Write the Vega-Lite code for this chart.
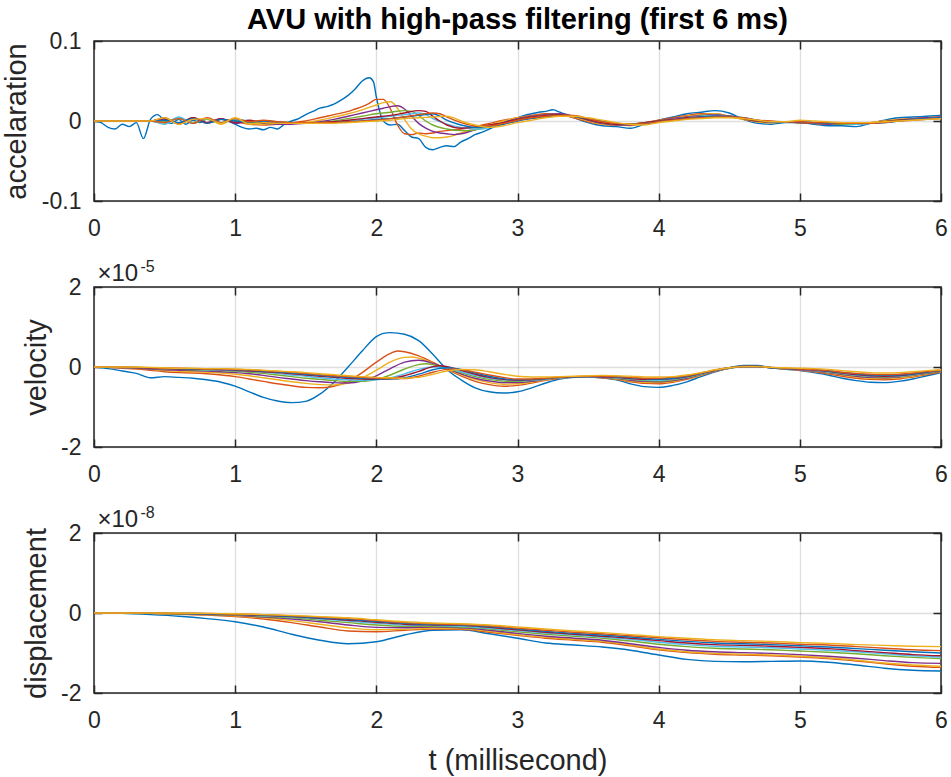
{
  "$schema": "https://vega.github.io/schema/vega-lite/v6.json",
  "padding": {"left": 1, "top": 5, "right": 5, "bottom": 0},
  "spacing": 86,
  "bounds": "flush",
  "datasets": {
    "acc": [
      {"t":0,"s1":0,"s2":0,"s3":0,"s4":0,"s5":0,"s6":0,"s7":0,"s8":0,"s9":0,"s10":0},
      {"t":0.05,"s1":-0.002},
      {"t":0.1,"s1":-0.008,"s2":0,"s3":0,"s4":0,"s5":0,"s6":0,"s7":0,"s8":0,"s9":0,"s10":0},
      {"t":0.15,"s1":-0.010},
      {"t":0.2,"s1":-0.004,"s2":0,"s3":0,"s4":0,"s5":0,"s6":0,"s7":0,"s8":0,"s9":0,"s10":0},
      {"t":0.25,"s1":-0.007},
      {"t":0.3,"s1":-0.002,"s2":0,"s3":0,"s4":0,"s5":0,"s6":0,"s7":0,"s8":0,"s9":0,"s10":0},
      {"t":0.35,"s1":-0.022},
      {"t":0.4,"s1":0.002,"s2":0,"s3":0,"s4":0,"s5":0,"s6":0,"s7":0,"s8":0,"s9":0,"s10":0},
      {"t":0.45,"s1":0.008},
      {"t":0.5,"s1":0.000,"s2":0.004,"s3":-0.003,"s4":0.002,"s5":0.000,"s6":-0.004,"s7":0.003,"s8":0.001,"s9":-0.002,"s10":0.004},
      {"t":0.55,"s1":-0.003},
      {"t":0.6,"s1":0.002,"s2":-0.004,"s3":0.004,"s4":-0.003,"s5":0.003,"s6":0.005,"s7":-0.003,"s8":-0.002,"s9":0.003,"s10":-0.004},
      {"t":0.65,"s1":-0.004},
      {"t":0.7,"s1":0.001,"s2":0.003,"s3":-0.002,"s4":0.004,"s5":-0.003,"s6":-0.003,"s7":0.004,"s8":0.003,"s9":-0.003,"s10":0.002},
      {"t":0.75,"s1":-0.002},
      {"t":0.8,"s1":0.003,"s2":-0.003,"s3":0.003,"s4":-0.002,"s5":0.002,"s6":0.003,"s7":-0.002,"s8":-0.003,"s9":0.004,"s10":0.003},
      {"t":0.85,"s1":-0.001},
      {"t":0.9,"s1":0.002,"s2":0.002,"s3":-0.004,"s4":0.003,"s5":-0.002,"s6":-0.002,"s7":0.003,"s8":0.002,"s9":-0.002,"s10":-0.003},
      {"t":0.95,"s1":0.000},
      {"t":1.0,"s1":-0.004,"s2":-0.001,"s3":0.003,"s4":-0.003,"s5":0.001,"s6":0.002,"s7":-0.002,"s8":0.000,"s9":0.003,"s10":0.004},
      {"t":1.05,"s1":-0.008},
      {"t":1.1,"s1":-0.010,"s2":-0.004,"s3":-0.002,"s4":0.000,"s5":-0.002,"s6":0.000,"s7":0.001,"s8":-0.001,"s9":-0.001,"s10":-0.004},
      {"t":1.15,"s1":-0.009},
      {"t":1.2,"s1":-0.011,"s2":-0.005,"s3":-0.004,"s4":-0.003,"s5":-0.002,"s6":-0.001,"s7":-0.002,"s8":0.000,"s9":0.001,"s10":-0.002},
      {"t":1.25,"s1":-0.008},
      {"t":1.3,"s1":-0.010,"s2":-0.004,"s3":-0.004,"s4":-0.004,"s5":-0.003,"s6":-0.002,"s7":-0.002,"s8":-0.001,"s9":-0.001,"s10":-0.003},
      {"t":1.35,"s1":-0.004},
      {"t":1.4,"s1":0.000,"s2":-0.002,"s3":-0.003,"s4":-0.004,"s5":-0.003,"s6":-0.003,"s7":-0.002,"s8":-0.002,"s9":-0.002,"s10":-0.003},
      {"t":1.45,"s1":0.003},
      {"t":1.5,"s1":0.008,"s2":0.000,"s3":-0.002,"s4":-0.003,"s5":-0.003,"s6":-0.003,"s7":-0.002,"s8":-0.002,"s9":-0.002,"s10":-0.003},
      {"t":1.55,"s1":0.012},
      {"t":1.6,"s1":0.016,"s2":0.004,"s3":0.001,"s4":-0.001,"s5":-0.002,"s6":-0.003,"s7":-0.002,"s8":-0.002,"s9":-0.002,"s10":-0.003},
      {"t":1.65,"s1":0.018},
      {"t":1.7,"s1":0.021,"s2":0.008,"s3":0.005,"s4":0.002,"s5":0.000,"s6":-0.002,"s7":-0.001,"s8":-0.002,"s9":-0.002,"s10":-0.003},
      {"t":1.75,"s1":0.026},
      {"t":1.8,"s1":0.032,"s2":0.012,"s3":0.009,"s4":0.006,"s5":0.003,"s6":0.000,"s7":0.001,"s8":-0.001,"s9":-0.001,"s10":-0.002},
      {"t":1.85,"s1":0.040,"s2":0.015},
      {"t":1.9,"s1":0.050,"s2":0.018,"s3":0.014,"s4":0.010,"s5":0.006,"s6":0.002,"s7":0.003,"s8":0.000,"s9":0.000,"s10":-0.001},
      {"t":1.95,"s1":0.054,"s2":0.022,"s3":0.017},
      {"t":1.98,"s1":0.049},
      {"t":2.0,"s1":0.030,"s2":0.027,"s3":0.020,"s4":0.014,"s5":0.009,"s6":0.004,"s7":0.005,"s8":0.002,"s9":0.001,"s10":0.000},
      {"t":2.05,"s1":0.000,"s2":0.027,"s3":0.023,"s4":0.016},
      {"t":2.1,"s1":-0.005,"s2":0.015,"s3":0.024,"s4":0.018,"s5":0.011,"s6":0.006,"s7":0.007,"s8":0.003,"s9":0.003,"s10":0.001},
      {"t":2.15,"s1":-0.004,"s2":-0.005,"s3":0.016,"s4":0.019},
      {"t":2.2,"s1":-0.012,"s2":-0.016,"s3":0.002,"s4":0.015,"s5":0.013,"s6":0.008,"s7":0.010,"s8":0.005,"s9":0.005,"s10":0.003},
      {"t":2.25,"s1":-0.020,"s2":-0.017,"s3":-0.010,"s4":0.006,"s5":0.012},
      {"t":2.3,"s1":-0.022,"s2":-0.015,"s3":-0.016,"s4":-0.003,"s5":0.007,"s6":0.010,"s7":0.013,"s8":0.007,"s9":0.008,"s10":0.004},
      {"t":2.35,"s1":-0.033,"s2":-0.016,"s3":-0.019,"s4":-0.009,"s5":0.000,"s6":0.008,"s7":0.012},
      {"t":2.4,"s1":-0.036,"s2":-0.015,"s3":-0.021,"s4":-0.013,"s5":-0.005,"s6":0.003,"s7":0.006,"s8":0.009,"s9":0.010,"s10":0.005},
      {"t":2.45,"s1":-0.033,"s2":-0.013,"s3":-0.021,"s4":-0.015,"s7":0.000,"s8":0.006,"s9":0.009},
      {"t":2.5,"s1":-0.031,"s2":-0.012,"s3":-0.020,"s4":-0.016,"s5":-0.010,"s6":-0.004,"s7":-0.005,"s8":0.001,"s9":0.005,"s10":0.006},
      {"t":2.55,"s1":-0.032,"s2":-0.011,"s3":-0.018,"s4":-0.017,"s10":0.004},
      {"t":2.6,"s1":-0.026,"s2":-0.010,"s3":-0.015,"s4":-0.016,"s5":-0.012,"s6":-0.008,"s7":-0.009,"s8":-0.005,"s9":-0.002,"s10":0.000},
      {"t":2.65,"s1":-0.022,"s5":-0.012},
      {"t":2.7,"s1":-0.017,"s2":-0.007,"s3":-0.010,"s4":-0.011,"s5":-0.011,"s6":-0.010,"s7":-0.008,"s8":-0.008,"s9":-0.006,"s10":-0.005},
      {"t":2.75,"s1":-0.014,"s6":-0.010},
      {"t":2.8,"s1":-0.010,"s2":-0.003,"s3":-0.005,"s4":-0.006,"s5":-0.007,"s6":-0.008,"s7":-0.005,"s8":-0.007,"s9":-0.006,"s10":-0.008},
      {"t":2.85,"s1":-0.006},
      {"t":2.9,"s1":-0.002,"s2":0.001,"s3":0.000,"s4":-0.002,"s5":-0.003,"s6":-0.004,"s7":-0.002,"s8":-0.004,"s9":-0.003,"s10":-0.006},
      {"t":2.95,"s1":0.001},
      {"t":3.0,"s1":0.004,"s2":0.004,"s3":0.004,"s4":0.003,"s5":0.002,"s6":0.001,"s7":0.002,"s8":0.000,"s9":0.001,"s10":-0.002},
      {"t":3.05,"s1":0.007},
      {"t":3.1,"s1":0.009,"s2":0.007,"s3":0.006,"s4":0.006,"s5":0.005,"s6":0.004,"s7":0.005,"s8":0.003,"s9":0.004,"s10":0.001},
      {"t":3.15,"s1":0.011},
      {"t":3.2,"s1":0.012,"s2":0.009,"s3":0.008,"s4":0.008,"s5":0.007,"s6":0.006,"s7":0.007,"s8":0.005,"s9":0.006,"s10":0.004},
      {"t":3.25,"s1":0.014},
      {"t":3.3,"s1":0.011,"s2":0.008,"s3":0.008,"s4":0.009,"s5":0.008,"s6":0.007,"s7":0.008,"s8":0.007,"s9":0.007,"s10":0.006},
      {"t":3.4,"s1":0.004,"s2":0.004,"s3":0.005,"s4":0.006,"s5":0.006,"s6":0.006,"s7":0.006,"s8":0.006,"s9":0.007,"s10":0.006},
      {"t":3.5,"s1":-0.002,"s2":-0.001,"s3":0.000,"s4":0.001,"s5":0.002,"s6":0.003,"s7":0.002,"s8":0.003,"s9":0.003,"s10":0.004},
      {"t":3.6,"s1":-0.006,"s2":-0.004,"s3":-0.004,"s4":-0.003,"s5":-0.002,"s6":-0.001,"s7":-0.002,"s8":0.000,"s9":-0.001,"s10":0.001},
      {"t":3.7,"s1":-0.007,"s2":-0.005,"s3":-0.005,"s4":-0.005,"s5":-0.004,"s6":-0.003,"s7":-0.004,"s8":-0.003,"s9":-0.003,"s10":-0.002},
      {"t":3.8,"s1":-0.009,"s2":-0.005,"s3":-0.006,"s4":-0.005,"s5":-0.004,"s6":-0.004,"s7":-0.004,"s8":-0.004,"s9":-0.004,"s10":-0.004},
      {"t":3.9,"s1":-0.004,"s2":-0.002,"s3":-0.003,"s4":-0.003,"s5":-0.002,"s6":-0.003,"s7":-0.002,"s8":-0.003,"s9":-0.003,"s10":-0.005},
      {"t":4.0,"s1":0.001,"s2":0.001,"s3":0.000,"s4":0.000,"s5":0.000,"s6":-0.001,"s7":0.000,"s8":-0.001,"s9":-0.001,"s10":-0.002},
      {"t":4.1,"s1":0.005,"s2":0.004,"s3":0.003,"s4":0.003,"s5":0.002,"s6":0.002,"s7":0.002,"s8":0.001,"s9":0.001,"s10":0.000},
      {"t":4.2,"s1":0.009,"s2":0.007,"s3":0.006,"s4":0.005,"s5":0.004,"s6":0.004,"s7":0.004,"s8":0.003,"s9":0.003,"s10":0.002},
      {"t":4.3,"s1":0.011,"s2":0.009,"s3":0.008,"s4":0.007,"s5":0.006,"s6":0.006,"s7":0.005,"s8":0.005,"s9":0.004,"s10":0.003},
      {"t":4.4,"s1":0.013,"s2":0.009,"s3":0.009,"s4":0.008,"s5":0.007,"s6":0.007,"s7":0.006,"s8":0.006,"s9":0.005,"s10":0.004},
      {"t":4.5,"s1":0.010,"s2":0.006,"s3":0.006,"s4":0.006,"s5":0.006,"s6":0.006,"s7":0.006,"s8":0.005,"s9":0.005,"s10":0.004},
      {"t":4.6,"s1":0.002,"s2":0.002,"s3":0.002,"s4":0.003,"s5":0.003,"s6":0.004,"s7":0.003,"s8":0.004,"s9":0.004,"s10":0.003},
      {"t":4.7,"s1":-0.003,"s2":-0.001,"s3":-0.001,"s4":0.000,"s5":0.000,"s6":0.001,"s7":0.000,"s8":0.001,"s9":0.001,"s10":0.001},
      {"t":4.8,"s1":-0.004,"s2":-0.002,"s3":-0.002,"s4":-0.001,"s5":-0.001,"s6":-0.001,"s7":-0.001,"s8":-0.001,"s9":0.000,"s10":-0.001},
      {"t":4.9,"s1":-0.002,"s2":-0.001,"s3":-0.001,"s4":-0.001,"s5":-0.001,"s6":-0.001,"s7":-0.001,"s8":-0.001,"s9":-0.001,"s10":-0.001},
      {"t":5.0,"s1":-0.002,"s2":-0.002,"s3":-0.002,"s4":-0.002,"s5":-0.002,"s6":-0.001,"s7":-0.002,"s8":-0.001,"s9":-0.001,"s10":0.001},
      {"t":5.1,"s1":-0.004,"s2":-0.003,"s3":-0.003,"s4":-0.003,"s5":-0.002,"s6":-0.002,"s7":-0.002,"s8":-0.002,"s9":-0.002,"s10":0.000},
      {"t":5.2,"s1":-0.006,"s2":-0.004,"s3":-0.004,"s4":-0.004,"s5":-0.003,"s6":-0.003,"s7":-0.003,"s8":-0.003,"s9":-0.002,"s10":-0.001},
      {"t":5.3,"s1":-0.006,"s2":-0.004,"s3":-0.004,"s4":-0.004,"s5":-0.004,"s6":-0.003,"s7":-0.003,"s8":-0.003,"s9":-0.003,"s10":-0.002},
      {"t":5.4,"s1":-0.007,"s2":-0.004,"s3":-0.004,"s4":-0.004,"s5":-0.004,"s6":-0.004,"s7":-0.003,"s8":-0.003,"s9":-0.003,"s10":-0.002},
      {"t":5.5,"s1":-0.003,"s2":-0.002,"s3":-0.002,"s4":-0.003,"s5":-0.003,"s6":-0.003,"s7":-0.003,"s8":-0.003,"s9":-0.003,"s10":-0.002},
      {"t":5.6,"s1":0.001,"s2":0.000,"s3":0.000,"s4":-0.001,"s5":-0.001,"s6":-0.002,"s7":-0.001,"s8":-0.002,"s9":-0.002,"s10":-0.001},
      {"t":5.7,"s1":0.004,"s2":0.002,"s3":0.002,"s4":0.001,"s5":0.001,"s6":0.000,"s7":0.001,"s8":0.000,"s9":0.000,"s10":0.000},
      {"t":5.8,"s1":0.005,"s2":0.003,"s3":0.003,"s4":0.003,"s5":0.002,"s6":0.002,"s7":0.002,"s8":0.002,"s9":0.001,"s10":0.001},
      {"t":5.9,"s1":0.006,"s2":0.004,"s3":0.004,"s4":0.004,"s5":0.003,"s6":0.003,"s7":0.003,"s8":0.003,"s9":0.002,"s10":0.002},
      {"t":6.0,"s1":0.007,"s2":0.005,"s3":0.005,"s4":0.005,"s5":0.004,"s6":0.004,"s7":0.004,"s8":0.004,"s9":0.003,"s10":0.003}
    ],
    "vel": [
      {"t":0.0,"s1":0,"s2":0,"s3":0,"s4":0,"s5":0,"s6":0,"s7":0,"s8":0,"s9":0,"s10":0},
      {"t":0.1,"s1":-0.04,"s2":-0.01,"s3":-0.01,"s4":-0.01,"s5":0,"s6":0,"s7":0,"s8":0,"s9":0,"s10":0},
      {"t":0.2,"s1":-0.10,"s2":-0.03,"s3":-0.02,"s4":-0.02,"s5":-0.01,"s6":-0.01,"s7":-0.01,"s8":0,"s9":0,"s10":0},
      {"t":0.3,"s1":-0.16,"s2":-0.05,"s3":-0.04,"s4":-0.03,"s5":-0.02,"s6":-0.02,"s7":-0.02,"s8":-0.01,"s9":-0.01,"s10":0},
      {"t":0.4,"s1":-0.27,"s2":-0.08,"s3":-0.06,"s4":-0.05,"s5":-0.03,"s6":-0.03,"s7":-0.03,"s8":-0.02,"s9":-0.02,"s10":-0.01},
      {"t":0.5,"s1":-0.24,"s2":-0.12,"s3":-0.09,"s4":-0.07,"s5":-0.05,"s6":-0.04,"s7":-0.04,"s8":-0.03,"s9":-0.03,"s10":-0.02},
      {"t":0.6,"s1":-0.26,"s2":-0.14,"s3":-0.11,"s4":-0.08,"s5":-0.06,"s6":-0.05,"s7":-0.05,"s8":-0.04,"s9":-0.03,"s10":-0.03},
      {"t":0.7,"s1":-0.28,"s2":-0.15,"s3":-0.12,"s4":-0.09,"s5":-0.07,"s6":-0.06,"s7":-0.05,"s8":-0.05,"s9":-0.04,"s10":-0.03},
      {"t":0.8,"s1":-0.32,"s2":-0.17,"s3":-0.13,"s4":-0.10,"s5":-0.08,"s6":-0.07,"s7":-0.06,"s8":-0.05,"s9":-0.05,"s10":-0.04},
      {"t":0.9,"s1":-0.38,"s2":-0.20,"s3":-0.15,"s4":-0.12,"s5":-0.09,"s6":-0.08,"s7":-0.07,"s8":-0.06,"s9":-0.05,"s10":-0.04},
      {"t":1.0,"s1":-0.48,"s2":-0.24,"s3":-0.18,"s4":-0.14,"s5":-0.11,"s6":-0.09,"s7":-0.08,"s8":-0.07,"s9":-0.06,"s10":-0.05},
      {"t":1.1,"s1":-0.62,"s2":-0.30,"s3":-0.22,"s4":-0.17,"s5":-0.13,"s6":-0.11,"s7":-0.10,"s8":-0.08,"s9":-0.07,"s10":-0.06},
      {"t":1.2,"s1":-0.76,"s2":-0.36,"s3":-0.27,"s4":-0.21,"s5":-0.16,"s6":-0.13,"s7":-0.12,"s8":-0.10,"s9":-0.09,"s10":-0.08},
      {"t":1.3,"s1":-0.85,"s2":-0.42,"s3":-0.32,"s4":-0.26,"s5":-0.20,"s6":-0.16,"s7":-0.14,"s8":-0.12,"s9":-0.11,"s10":-0.10},
      {"t":1.4,"s1":-0.89,"s2":-0.47,"s3":-0.37,"s4":-0.30,"s5":-0.24,"s6":-0.20,"s7":-0.17,"s8":-0.15,"s9":-0.13,"s10":-0.12},
      {"t":1.5,"s1":-0.86,"s2":-0.51,"s3":-0.41,"s4":-0.34,"s5":-0.28,"s6":-0.23,"s7":-0.20,"s8":-0.18,"s9":-0.16,"s10":-0.14},
      {"t":1.6,"s1":-0.68,"s2":-0.52,"s3":-0.44,"s4":-0.37,"s5":-0.31,"s6":-0.27,"s7":-0.23,"s8":-0.21,"s9":-0.19,"s10":-0.17},
      {"t":1.7,"s1":-0.38,"s2":-0.48,"s3":-0.45,"s4":-0.39,"s5":-0.34,"s6":-0.30,"s7":-0.26,"s8":-0.24,"s9":-0.22,"s10":-0.19},
      {"t":1.8,"s1":0.00,"s2":-0.36,"s3":-0.40,"s4":-0.40,"s5":-0.36,"s6":-0.32,"s7":-0.28,"s8":-0.26,"s9":-0.24,"s10":-0.22},
      {"t":1.9,"s1":0.40,"s2":-0.14,"s3":-0.27,"s4":-0.35,"s5":-0.36,"s6":-0.33,"s7":-0.30,"s8":-0.28,"s9":-0.26,"s10":-0.24},
      {"t":2.0,"s1":0.76,"s2":0.12,"s3":-0.08,"s4":-0.22,"s5":-0.31,"s6":-0.32,"s7":-0.31,"s8":-0.30,"s9":-0.28,"s10":-0.26},
      {"t":2.05,"s1":0.84},
      {"t":2.1,"s1":0.86,"s2":0.34,"s3":0.13,"s4":-0.04,"s5":-0.20,"s6":-0.27,"s7":-0.29,"s8":-0.30,"s9":-0.29,"s10":-0.27},
      {"t":2.15,"s2":0.40},
      {"t":2.2,"s1":0.82,"s2":0.38,"s3":0.24,"s4":0.12,"s5":-0.05,"s6":-0.17,"s7":-0.22,"s8":-0.27,"s9":-0.29,"s10":-0.28},
      {"t":2.25,"s3":0.25},
      {"t":2.3,"s1":0.66,"s2":0.28,"s3":0.22,"s4":0.17,"s5":0.06,"s6":-0.06,"s7":-0.11,"s8":-0.18,"s9":-0.23,"s10":-0.26},
      {"t":2.35,"s5":0.08},
      {"t":2.4,"s1":0.32,"s2":0.12,"s3":0.10,"s4":0.09,"s5":0.06,"s6":0.00,"s7":0.01,"s8":-0.07,"s9":-0.13,"s10":-0.18},
      {"t":2.45,"s7":0.03},
      {"t":2.5,"s1":-0.06,"s2":-0.06,"s3":-0.05,"s4":-0.04,"s5":-0.03,"s6":-0.03,"s7":0.01,"s8":-0.02,"s9":-0.06,"s10":-0.10},
      {"t":2.55,"s9":-0.05},
      {"t":2.6,"s1":-0.32,"s2":-0.22,"s3":-0.19,"s4":-0.17,"s5":-0.14,"s6":-0.12,"s7":-0.08,"s8":-0.06,"s9":-0.07,"s10":-0.06},
      {"t":2.7,"s1":-0.52,"s2":-0.36,"s3":-0.31,"s4":-0.28,"s5":-0.24,"s6":-0.21,"s7":-0.18,"s8":-0.15,"s9":-0.13,"s10":-0.07},
      {"t":2.8,"s1":-0.62,"s2":-0.44,"s3":-0.39,"s4":-0.35,"s5":-0.31,"s6":-0.28,"s7":-0.26,"s8":-0.23,"s9":-0.20,"s10":-0.12},
      {"t":2.9,"s1":-0.65,"s2":-0.48,"s3":-0.43,"s4":-0.39,"s5":-0.35,"s6":-0.32,"s7":-0.31,"s8":-0.29,"s9":-0.26,"s10":-0.18},
      {"t":3.0,"s1":-0.62,"s2":-0.46,"s3":-0.42,"s4":-0.39,"s5":-0.36,"s6":-0.34,"s7":-0.33,"s8":-0.32,"s9":-0.30,"s10":-0.23},
      {"t":3.1,"s1":-0.52,"s2":-0.40,"s3":-0.38,"s4":-0.36,"s5":-0.34,"s6":-0.33,"s7":-0.32,"s8":-0.31,"s9":-0.30,"s10":-0.25},
      {"t":3.2,"s1":-0.40,"s2":-0.33,"s3":-0.32,"s4":-0.31,"s5":-0.30,"s6":-0.30,"s7":-0.29,"s8":-0.29,"s9":-0.28,"s10":-0.25},
      {"t":3.3,"s1":-0.30,"s2":-0.28,"s3":-0.27,"s4":-0.27,"s5":-0.27,"s6":-0.27,"s7":-0.26,"s8":-0.26,"s9":-0.26,"s10":-0.24},
      {"t":3.4,"s1":-0.26,"s2":-0.25,"s3":-0.25,"s4":-0.25,"s5":-0.25,"s6":-0.25,"s7":-0.25,"s8":-0.25,"s9":-0.24,"s10":-0.23},
      {"t":3.5,"s1":-0.25,"s2":-0.25,"s3":-0.25,"s4":-0.25,"s5":-0.25,"s6":-0.25,"s7":-0.24,"s8":-0.24,"s9":-0.23,"s10":-0.22},
      {"t":3.6,"s1":-0.27,"s2":-0.27,"s3":-0.26,"s4":-0.26,"s5":-0.26,"s6":-0.25,"s7":-0.25,"s8":-0.24,"s9":-0.23,"s10":-0.21},
      {"t":3.7,"s1":-0.32,"s2":-0.31,"s3":-0.30,"s4":-0.29,"s5":-0.28,"s6":-0.27,"s7":-0.26,"s8":-0.25,"s9":-0.24,"s10":-0.22},
      {"t":3.8,"s1":-0.42,"s2":-0.37,"s3":-0.35,"s4":-0.33,"s5":-0.31,"s6":-0.30,"s7":-0.29,"s8":-0.27,"s9":-0.26,"s10":-0.23},
      {"t":3.9,"s1":-0.49,"s2":-0.41,"s3":-0.38,"s4":-0.36,"s5":-0.34,"s6":-0.32,"s7":-0.31,"s8":-0.29,"s9":-0.28,"s10":-0.25},
      {"t":4.0,"s1":-0.51,"s2":-0.42,"s3":-0.39,"s4":-0.37,"s5":-0.35,"s6":-0.33,"s7":-0.31,"s8":-0.30,"s9":-0.28,"s10":-0.25},
      {"t":4.1,"s1":-0.46,"s2":-0.38,"s3":-0.36,"s4":-0.34,"s5":-0.32,"s6":-0.30,"s7":-0.29,"s8":-0.28,"s9":-0.26,"s10":-0.24},
      {"t":4.2,"s1":-0.37,"s2":-0.31,"s3":-0.29,"s4":-0.28,"s5":-0.26,"s6":-0.25,"s7":-0.24,"s8":-0.23,"s9":-0.22,"s10":-0.20},
      {"t":4.3,"s1":-0.24,"s2":-0.21,"s3":-0.20,"s4":-0.19,"s5":-0.18,"s6":-0.17,"s7":-0.16,"s8":-0.16,"s9":-0.15,"s10":-0.14},
      {"t":4.4,"s1":-0.12,"s2":-0.11,"s3":-0.10,"s4":-0.10,"s5":-0.09,"s6":-0.09,"s7":-0.08,"s8":-0.08,"s9":-0.08,"s10":-0.07},
      {"t":4.5,"s1":-0.02,"s2":-0.03,"s3":-0.03,"s4":-0.03,"s5":-0.03,"s6":-0.03,"s7":-0.02,"s8":-0.02,"s9":-0.02,"s10":-0.02},
      {"t":4.6,"s1":0.04,"s2":0.02,"s3":0.01,"s4":0.01,"s5":0.01,"s6":0.01,"s7":0.01,"s8":0.01,"s9":0.01,"s10":0.01},
      {"t":4.7,"s1":0.04,"s2":0.02,"s3":0.01,"s4":0.01,"s5":0.01,"s6":0.01,"s7":0.01,"s8":0.01,"s9":0.01,"s10":0.01},
      {"t":4.8,"s1":-0.02,"s2":-0.02,"s3":-0.02,"s4":-0.02,"s5":-0.02,"s6":-0.02,"s7":-0.02,"s8":-0.02,"s9":-0.01,"s10":-0.01},
      {"t":4.9,"s1":-0.06,"s2":-0.05,"s3":-0.05,"s4":-0.04,"s5":-0.04,"s6":-0.04,"s7":-0.04,"s8":-0.04,"s9":-0.03,"s10":-0.02},
      {"t":5.0,"s1":-0.09,"s2":-0.08,"s3":-0.07,"s4":-0.07,"s5":-0.06,"s6":-0.06,"s7":-0.06,"s8":-0.05,"s9":-0.05,"s10":-0.03},
      {"t":5.1,"s1":-0.14,"s2":-0.12,"s3":-0.11,"s4":-0.10,"s5":-0.09,"s6":-0.09,"s7":-0.08,"s8":-0.07,"s9":-0.07,"s10":-0.04},
      {"t":5.2,"s1":-0.20,"s2":-0.17,"s3":-0.15,"s4":-0.14,"s5":-0.13,"s6":-0.12,"s7":-0.11,"s8":-0.10,"s9":-0.09,"s10":-0.06},
      {"t":5.3,"s1":-0.28,"s2":-0.23,"s3":-0.20,"s4":-0.19,"s5":-0.17,"s6":-0.16,"s7":-0.15,"s8":-0.14,"s9":-0.13,"s10":-0.09},
      {"t":5.4,"s1":-0.34,"s2":-0.28,"s3":-0.25,"s4":-0.23,"s5":-0.21,"s6":-0.20,"s7":-0.19,"s8":-0.17,"s9":-0.16,"s10":-0.12},
      {"t":5.5,"s1":-0.38,"s2":-0.31,"s3":-0.28,"s4":-0.26,"s5":-0.24,"s6":-0.23,"s7":-0.22,"s8":-0.20,"s9":-0.18,"s10":-0.14},
      {"t":5.6,"s1":-0.39,"s2":-0.32,"s3":-0.29,"s4":-0.27,"s5":-0.25,"s6":-0.24,"s7":-0.23,"s8":-0.21,"s9":-0.19,"s10":-0.15},
      {"t":5.7,"s1":-0.36,"s2":-0.30,"s3":-0.27,"s4":-0.25,"s5":-0.24,"s6":-0.23,"s7":-0.22,"s8":-0.20,"s9":-0.18,"s10":-0.14},
      {"t":5.8,"s1":-0.30,"s2":-0.25,"s3":-0.23,"s4":-0.21,"s5":-0.20,"s6":-0.19,"s7":-0.18,"s8":-0.17,"s9":-0.15,"s10":-0.12},
      {"t":5.9,"s1":-0.22,"s2":-0.19,"s3":-0.17,"s4":-0.16,"s5":-0.15,"s6":-0.14,"s7":-0.13,"s8":-0.12,"s9":-0.11,"s10":-0.09},
      {"t":6.0,"s1":-0.14,"s2":-0.12,"s3":-0.11,"s4":-0.10,"s5":-0.10,"s6":-0.09,"s7":-0.09,"s8":-0.08,"s9":-0.08,"s10":-0.07}
    ],
    "disp": [
      {"t":0.0,"s1":0,"s2":0,"s3":0,"s4":0,"s5":0,"s6":0,"s7":0,"s8":0,"s9":0,"s10":0},
      {"t":0.2,"s1":-0.01,"s2":0,"s3":0,"s4":0,"s5":0,"s6":0,"s7":0,"s8":0,"s9":0,"s10":0},
      {"t":0.4,"s1":-0.04,"s2":-0.01,"s3":-0.01,"s4":-0.01,"s5":-0.01,"s6":-0.01,"s7":0,"s8":0,"s9":0,"s10":0},
      {"t":0.6,"s1":-0.08,"s2":-0.03,"s3":-0.02,"s4":-0.02,"s5":-0.02,"s6":-0.01,"s7":-0.01,"s8":-0.01,"s9":-0.01,"s10":0},
      {"t":0.8,"s1":-0.14,"s2":-0.05,"s3":-0.04,"s4":-0.03,"s5":-0.03,"s6":-0.02,"s7":-0.02,"s8":-0.02,"s9":-0.01,"s10":-0.01},
      {"t":1.0,"s1":-0.22,"s2":-0.09,"s3":-0.07,"s4":-0.06,"s5":-0.05,"s6":-0.04,"s7":-0.04,"s8":-0.03,"s9":-0.03,"s10":-0.02},
      {"t":1.2,"s1":-0.35,"s2":-0.15,"s3":-0.12,"s4":-0.10,"s5":-0.08,"s6":-0.07,"s7":-0.06,"s8":-0.05,"s9":-0.04,"s10":-0.04},
      {"t":1.4,"s1":-0.53,"s2":-0.24,"s3":-0.19,"s4":-0.15,"s5":-0.12,"s6":-0.10,"s7":-0.09,"s8":-0.08,"s9":-0.07,"s10":-0.06},
      {"t":1.6,"s1":-0.68,"s2":-0.35,"s3":-0.28,"s4":-0.22,"s5":-0.18,"s6":-0.15,"s7":-0.13,"s8":-0.12,"s9":-0.10,"s10":-0.09},
      {"t":1.8,"s1":-0.77,"s2":-0.45,"s3":-0.37,"s4":-0.30,"s5":-0.24,"s6":-0.20,"s7":-0.18,"s8":-0.16,"s9":-0.14,"s10":-0.12},
      {"t":2.0,"s1":-0.72,"s2":-0.47,"s3":-0.42,"s4":-0.36,"s5":-0.30,"s6":-0.26,"s7":-0.23,"s8":-0.21,"s9":-0.19,"s10":-0.17},
      {"t":2.2,"s1":-0.55,"s2":-0.43,"s3":-0.41,"s4":-0.37,"s5":-0.33,"s6":-0.30,"s7":-0.28,"s8":-0.26,"s9":-0.24,"s10":-0.22},
      {"t":2.4,"s1":-0.43,"s2":-0.40,"s3":-0.38,"s4":-0.35,"s5":-0.33,"s6":-0.31,"s7":-0.30,"s8":-0.29,"s9":-0.27,"s10":-0.25},
      {"t":2.6,"s1":-0.42,"s2":-0.41,"s3":-0.39,"s4":-0.37,"s5":-0.35,"s6":-0.33,"s7":-0.31,"s8":-0.30,"s9":-0.29,"s10":-0.27},
      {"t":2.8,"s1":-0.52,"s2":-0.48,"s3":-0.46,"s4":-0.43,"s5":-0.40,"s6":-0.38,"s7":-0.36,"s8":-0.34,"s9":-0.32,"s10":-0.30},
      {"t":3.0,"s1":-0.63,"s2":-0.56,"s3":-0.54,"s4":-0.51,"s5":-0.47,"s6":-0.44,"s7":-0.42,"s8":-0.40,"s9":-0.38,"s10":-0.35},
      {"t":3.2,"s1":-0.75,"s2":-0.63,"s3":-0.61,"s4":-0.58,"s5":-0.53,"s6":-0.50,"s7":-0.48,"s8":-0.46,"s9":-0.43,"s10":-0.40},
      {"t":3.4,"s1":-0.80,"s2":-0.68,"s3":-0.66,"s4":-0.63,"s5":-0.58,"s6":-0.55,"s7":-0.53,"s8":-0.51,"s9":-0.48,"s10":-0.45},
      {"t":3.6,"s1":-0.85,"s2":-0.73,"s3":-0.71,"s4":-0.68,"s5":-0.63,"s6":-0.60,"s7":-0.58,"s8":-0.55,"s9":-0.52,"s10":-0.49},
      {"t":3.8,"s1":-0.93,"s2":-0.82,"s3":-0.80,"s4":-0.77,"s5":-0.70,"s6":-0.66,"s7":-0.63,"s8":-0.60,"s9":-0.57,"s10":-0.54},
      {"t":4.0,"s1":-1.05,"s2":-0.92,"s3":-0.90,"s4":-0.86,"s5":-0.78,"s6":-0.73,"s7":-0.69,"s8":-0.66,"s9":-0.62,"s10":-0.59},
      {"t":4.2,"s1":-1.16,"s2":-0.99,"s3":-0.97,"s4":-0.93,"s5":-0.84,"s6":-0.79,"s7":-0.75,"s8":-0.71,"s9":-0.67,"s10":-0.63},
      {"t":4.4,"s1":-1.21,"s2":-1.03,"s3":-1.01,"s4":-0.97,"s5":-0.88,"s6":-0.83,"s7":-0.79,"s8":-0.75,"s9":-0.71,"s10":-0.67},
      {"t":4.6,"s1":-1.22,"s2":-1.05,"s3":-1.03,"s4":-0.99,"s5":-0.90,"s6":-0.85,"s7":-0.81,"s8":-0.77,"s9":-0.73,"s10":-0.69},
      {"t":4.8,"s1":-1.21,"s2":-1.07,"s3":-1.05,"s4":-1.01,"s5":-0.92,"s6":-0.87,"s7":-0.83,"s8":-0.79,"s9":-0.75,"s10":-0.71},
      {"t":5.0,"s1":-1.20,"s2":-1.10,"s3":-1.08,"s4":-1.04,"s5":-0.95,"s6":-0.90,"s7":-0.86,"s8":-0.82,"s9":-0.78,"s10":-0.74},
      {"t":5.2,"s1":-1.23,"s2":-1.14,"s3":-1.12,"s4":-1.08,"s5":-0.98,"s6":-0.93,"s7":-0.89,"s8":-0.85,"s9":-0.80,"s10":-0.76},
      {"t":5.4,"s1":-1.30,"s2":-1.20,"s3":-1.18,"s4":-1.13,"s5":-1.02,"s6":-0.97,"s7":-0.94,"s8":-0.89,"s9":-0.84,"s10":-0.79},
      {"t":5.6,"s1":-1.38,"s2":-1.27,"s3":-1.25,"s4":-1.19,"s5":-1.07,"s6":-1.02,"s7":-0.99,"s8":-0.93,"s9":-0.88,"s10":-0.81},
      {"t":5.8,"s1":-1.43,"s2":-1.33,"s3":-1.30,"s4":-1.24,"s5":-1.11,"s6":-1.07,"s7":-1.04,"s8":-0.97,"s9":-0.92,"s10":-0.83},
      {"t":6.0,"s1":-1.45,"s2":-1.36,"s3":-1.33,"s4":-1.26,"s5":-1.14,"s6":-1.10,"s7":-1.07,"s8":-1.00,"s9":-0.94,"s10":-0.84}
    ]
  },
  "vconcat": [
    {
      "width": 847, "height": 160,
      "title": {"text": "AVU with high-pass filtering (first 6 ms)", "fontSize": 29, "fontWeight": "bold", "color": "#000000", "anchor": "middle", "frame": "group", "baseline": "alphabetic", "offset": -28},
      "data": {"name": "acc"},
      "transform": [{"fold": ["s1","s2","s3","s4","s5","s6","s7","s8","s9","s10"], "as": ["series","value"]}, {"filter": "isValid(datum.value)"}],
      "encoding": {
        "color": {"field": "series", "type": "nominal", "scale": {"domain": ["s1","s2","s3","s4","s5","s6","s7","s8","s9","s10"], "range": ["#0072BD","#D95319","#EDB120","#7E2F8E","#77AC30","#4DBEEE","#A2142F","#0072BD","#D95319","#EDB120"]}, "legend": null}
      },
      "layer": [
        {
          "mark": {"type": "line", "strokeWidth": 1.4, "interpolate": "monotone"},
          "encoding": {
            "x": {"field": "t", "type": "quantitative", "scale": {"domain": [0, 6], "nice": false}, "axis": {"values": [0,1,2,3,4,5,6], "grid": true, "title": null, "labelFlush": false, "labelOverlap": false, "labelPadding": 24}},
            "y": {"field": "value", "type": "quantitative", "scale": {"domain": [-0.1, 0.1], "nice": false}, "axis": {"values": [-0.1, 0, 0.1], "grid": true, "labelExpr": "datum.value == 0 ? '0' : (datum.value < 0 ? '-0.1' : '0.1')", "labelFlush": false, "labelOverlap": false, "labelPadding": 21, "title": "accelaration", "titleX": -69, "titleBaseline": "alphabetic"}}
          }
        },
        {
          "mark": {"type": "line", "opacity": 0},
          "encoding": {
            "x": {"field": "t", "type": "quantitative", "scale": {"domain": [0, 6], "nice": false}, "axis": {"orient": "top", "values": [0,1,2,3,4,5,6], "labels": false, "grid": false, "title": null}},
            "y": {"field": "value", "type": "quantitative", "scale": {"domain": [-0.1, 0.1], "nice": false}, "axis": {"orient": "right", "values": [-0.1, 0, 0.1], "labels": false, "grid": false, "title": null}}
          }
        }
      ],
      "resolve": {"axis": {"x": "independent", "y": "independent"}}
    },
    {
      "width": 847, "height": 160,
      "data": {"name": "vel"},
      "transform": [{"fold": ["s1","s2","s3","s4","s5","s6","s7","s8","s9","s10"], "as": ["series","value"]}, {"filter": "isValid(datum.value)"}],
      "encoding": {
        "color": {"field": "series", "type": "nominal", "scale": {"domain": ["s1","s2","s3","s4","s5","s6","s7","s8","s9","s10"], "range": ["#0072BD","#D95319","#EDB120","#7E2F8E","#77AC30","#4DBEEE","#A2142F","#0072BD","#D95319","#EDB120"]}, "legend": null}
      },
      "layer": [
        {
          "mark": {"type": "line", "strokeWidth": 1.4, "interpolate": "monotone"},
          "encoding": {
            "x": {"field": "t", "type": "quantitative", "scale": {"domain": [0, 6], "nice": false}, "axis": {"values": [0,1,2,3,4,5,6], "grid": true, "title": null, "labelFlush": false, "labelOverlap": false, "labelPadding": 24}},
            "y": {"field": "value", "type": "quantitative", "scale": {"domain": [-2, 2], "nice": false}, "axis": {"values": [-2, 0, 2], "grid": true, "labelExpr": "datum.value == 0 ? '0' : (datum.value < 0 ? '-2' : '2')", "labelFlush": false, "labelOverlap": false, "labelPadding": 21, "title": "velocity", "titleX": -49, "titleBaseline": "alphabetic"}}
          }
        },
        {
          "mark": {"type": "line", "opacity": 0},
          "encoding": {
            "x": {"field": "t", "type": "quantitative", "scale": {"domain": [0, 6], "nice": false}, "axis": {"orient": "top", "values": [0,1,2,3,4,5,6], "labels": false, "grid": false, "title": "-5", "titleFontSize": 16, "titleX": 46, "titleY": -16, "titleAlign": "left", "titleBaseline": "alphabetic", "titleAngle": 0}},
            "y": {"field": "value", "type": "quantitative", "scale": {"domain": [-2, 2], "nice": false}, "axis": {"orient": "right", "values": [-2, 0, 2], "labels": false, "grid": false, "title": "×10", "titleFontSize": 24, "titleX": -844, "titleY": -7, "titleAlign": "left", "titleBaseline": "alphabetic", "titleAngle": 0}}
          }
        }
      ],
      "resolve": {"axis": {"x": "independent", "y": "independent"}}
    },
    {
      "width": 847, "height": 160,
      "data": {"name": "disp"},
      "transform": [{"fold": ["s1","s2","s3","s4","s5","s6","s7","s8","s9","s10"], "as": ["series","value"]}, {"filter": "isValid(datum.value)"}],
      "encoding": {
        "color": {"field": "series", "type": "nominal", "scale": {"domain": ["s1","s2","s3","s4","s5","s6","s7","s8","s9","s10"], "range": ["#0072BD","#D95319","#EDB120","#7E2F8E","#77AC30","#4DBEEE","#A2142F","#0072BD","#D95319","#EDB120"]}, "legend": null}
      },
      "layer": [
        {
          "mark": {"type": "line", "strokeWidth": 1.4, "interpolate": "monotone"},
          "encoding": {
            "x": {"field": "t", "type": "quantitative", "scale": {"domain": [0, 6], "nice": false}, "axis": {"values": [0,1,2,3,4,5,6], "grid": true, "title": "t (millisecond)", "titleY": 76, "titleBaseline": "alphabetic", "labelFlush": false, "labelOverlap": false, "labelPadding": 24}},
            "y": {"field": "value", "type": "quantitative", "scale": {"domain": [-2, 2], "nice": false}, "axis": {"values": [-2, 0, 2], "grid": true, "labelExpr": "datum.value == 0 ? '0' : (datum.value < 0 ? '-2' : '2')", "labelFlush": false, "labelOverlap": false, "labelPadding": 21, "title": "displacement", "titleX": -49, "titleBaseline": "alphabetic"}}
          }
        },
        {
          "mark": {"type": "line", "opacity": 0},
          "encoding": {
            "x": {"field": "t", "type": "quantitative", "scale": {"domain": [0, 6], "nice": false}, "axis": {"orient": "top", "values": [0,1,2,3,4,5,6], "labels": false, "grid": false, "title": "-8", "titleFontSize": 16, "titleX": 46, "titleY": -16, "titleAlign": "left", "titleBaseline": "alphabetic", "titleAngle": 0}},
            "y": {"field": "value", "type": "quantitative", "scale": {"domain": [-2, 2], "nice": false}, "axis": {"orient": "right", "values": [-2, 0, 2], "labels": false, "grid": false, "title": "×10", "titleFontSize": 24, "titleX": -844, "titleY": -7, "titleAlign": "left", "titleBaseline": "alphabetic", "titleAngle": 0}}
          }
        }
      ],
      "resolve": {"axis": {"x": "independent", "y": "independent"}}
    }
  ],
  "config": {
    "font": "Liberation Sans",
    "view": {"stroke": "#262626", "strokeWidth": 1.5},
    "axis": {
      "labelFont": "Liberation Sans", "labelFontSize": 23, "labelColor": "#262626",
      "titleFont": "Liberation Sans", "titleFontSize": 29, "titleFontWeight": "normal", "titleColor": "#262626",
      "gridColor": "#262626", "gridOpacity": 0.15, "gridWidth": 1.3,
      "tickColor": "#262626", "tickWidth": 1.5, "tickSize": -8, "domain": false
    },
    "title": {"font": "Liberation Sans"}
  }
}
